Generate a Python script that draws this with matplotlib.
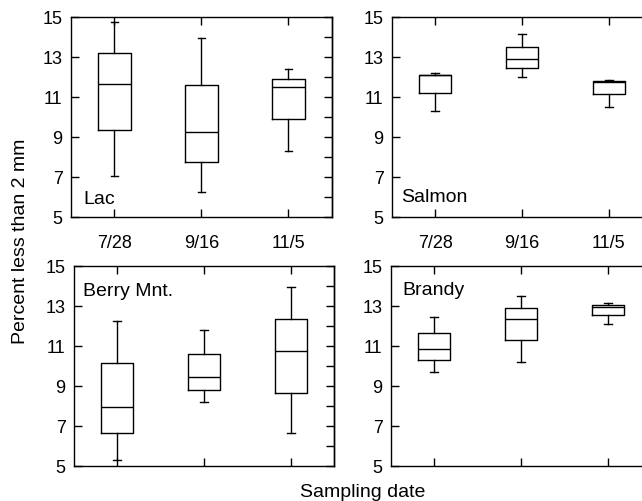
import matplotlib
matplotlib.use("Agg")
import matplotlib.pyplot as plt

plt.rcParams['font.family'] = ['Liberation Sans', 'DejaVu Sans']

sites = ["Lac", "Salmon", "Berry Mnt.", "Brandy"]
dates = ["7/28", "9/16", "11/5"]

whisker_low = [
    [7.03, 6.27, 8.28],
    [10.30, 12.00, 10.47],
    [5.32, 8.20, 6.63],
    [9.72, 10.18, 12.12],
]
q1 = [
    [9.33, 7.73, 9.88],
    [11.20, 12.43, 11.12],
    [6.66, 8.82, 8.66],
    [10.30, 11.28, 12.55],
]
median = [
    [11.63, 9.23, 11.47],
    [12.08, 12.88, 11.75],
    [7.97, 9.45, 10.73],
    [10.86, 12.33, 12.97],
]
q3 = [
    [13.18, 11.58, 11.90],
    [12.10, 13.50, 11.77],
    [10.13, 10.62, 12.34],
    [11.65, 12.91, 13.07],
]
whisker_high = [
    [14.72, 13.93, 12.38],
    [12.19, 14.15, 11.82],
    [12.27, 11.81, 13.95],
    [12.46, 13.52, 13.17],
]

W, H = 642, 502
fig = plt.figure(figsize=(W / 100, H / 100), dpi=100)

# panel boxes in pixels: left, top, right, bottom
panels = [
    (71, 17.7, 332, 218),
    (392, 17.7, 652, 218),
    (74, 267, 334, 467),
    (391, 267, 651, 467),
]
label_pos = [(0.046, 0.09), (0.035, 0.10), (0.035, 0.875), (0.042, 0.88)]

for i, (l, t, r, b) in enumerate(panels):
    ax = fig.add_axes([l / W, 1 - b / H, (r - l) / W, (b - t) / H])
    stats = []
    for j, d in enumerate(dates):
        stats.append(dict(med=median[i][j], q1=q1[i][j], q3=q3[i][j],
                          whislo=whisker_low[i][j], whishi=whisker_high[i][j],
                          fliers=[], label=d))
    lp = dict(color='black', linewidth=1.0)
    ax.bxp(stats, positions=[1, 2, 3], widths=0.37, capwidths=0.09,
           showfliers=False,
           boxprops=lp, medianprops=lp, whiskerprops=lp, capprops=lp)
    ax.set_xlim(0.5, 3.5)
    ax.set_ylim(5, 15)
    ax.set_xticks([1, 2, 3])
    ax.set_yticks([5, 7, 9, 11, 13, 15])
    if i < 2:
        ax.set_xticklabels(dates)
    else:
        ax.set_xticklabels([])
    ax.tick_params(axis='x', which='both', direction='in', top=True, bottom=True,
                   length=6, width=1.0, labelsize=13, pad=12)
    ax.tick_params(axis='y', which='major', direction='in', left=True, right=False,
                   length=6, width=1.0, labelsize=13, pad=6)
    sec = ax.secondary_yaxis('right')
    sec.set_yticks(list(range(5, 16)))
    sec.tick_params(direction='in', length=6, width=1.0, labelright=False)
    sec.spines['right'].set_linewidth(1.0)
    for s in ax.spines.values():
        s.set_linewidth(1.0)
    x, y = label_pos[i]
    ax.text(x, y, sites[i], transform=ax.transAxes, fontsize=14,
            ha='left', va='center')

fig.text(21 / W, 1 - 241 / H, "Percent less than 2 mm", rotation=90,
         ha='center', va='center', fontsize=14)
fig.text(363 / W, 1 - 497.3 / H, "Sampling date", ha='center', va='baseline',
         fontsize=14)

fig.savefig("out.png", dpi=100)
